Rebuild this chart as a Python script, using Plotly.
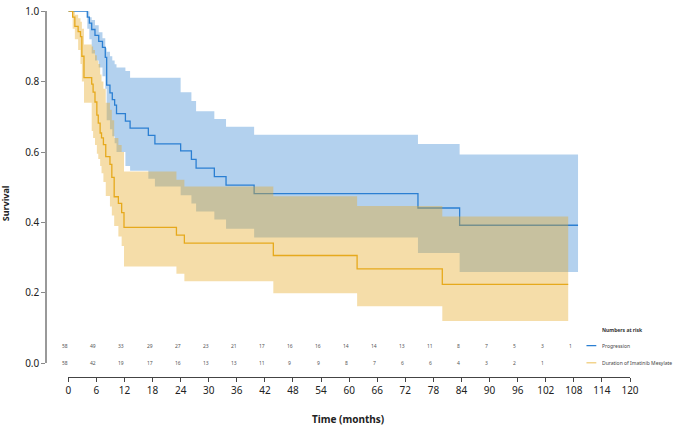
import plotly.graph_objects as go

# ---------------- data ----------------
prog_t = [0, 4.06, 4.5, 5.0, 5.7, 6.5, 7.3, 7.9, 8.2, 8.9, 9.4, 9.9, 10.3, 12.2, 13.2, 17.1, 18.5,
          24.0, 26.3, 27.3, 31.2, 33.7, 39.7, 74.7, 83.6, 108.9]
prog_s = [1.0, 0.983, 0.966, 0.948, 0.931, 0.914, 0.897, 0.869, 0.790, 0.768, 0.749, 0.733, 0.709,
          0.688, 0.668, 0.647, 0.623, 0.603, 0.579, 0.554, 0.530, 0.506, 0.482, 0.441, 0.392, 0.392]
prog_up = [1.0, 1.0, 0.983, 0.975, 0.96, 0.94, 0.923, 0.895, 0.885, 0.872, 0.86, 0.849, 0.84,
           0.83, 0.811, 0.811, 0.811, 0.770, 0.745, 0.716, 0.694, 0.672, 0.649, 0.623, 0.593, 0.593]
prog_lo = [1.0, 0.95, 0.92, 0.88, 0.86, 0.84, 0.815, 0.78, 0.69, 0.665, 0.645, 0.625, 0.60,
           0.56, 0.547, 0.524, 0.502, 0.477, 0.454, 0.431, 0.408, 0.382, 0.357, 0.313, 0.259, 0.259]

dur_t = [0, 0.93, 1.4, 2.1, 2.6, 2.9, 3.35, 5.0, 5.3, 5.7, 6.1, 6.4, 6.8, 7.1, 7.5, 8.0, 8.9, 9.3,
         9.8, 10.7, 11.4, 11.9, 23.1, 24.8, 43.8, 61.7, 79.9, 106.8]
dur_s = [1.0, 0.983, 0.957, 0.942, 0.928, 0.872, 0.811, 0.793, 0.770, 0.742, 0.705, 0.682, 0.654,
         0.640, 0.621, 0.587, 0.565, 0.528, 0.473, 0.454, 0.428, 0.386, 0.364, 0.341, 0.306, 0.268,
         0.224, 0.224]
dur_up = [1.0, 1.0, 0.99, 0.98, 0.97, 0.95, 0.905, 0.9, 0.89, 0.875, 0.86, 0.85, 0.82, 0.80, 0.78,
          0.74, 0.72, 0.69, 0.64, 0.62, 0.60, 0.545, 0.521, 0.502, 0.474, 0.447, 0.417, 0.417]
dur_lo = [1.0, 0.95, 0.92, 0.89, 0.85, 0.80, 0.74, 0.66, 0.64, 0.62, 0.595, 0.58, 0.56, 0.54, 0.515,
          0.475, 0.445, 0.42, 0.39, 0.36, 0.333, 0.275, 0.254, 0.233, 0.199, 0.162, 0.120, 0.120]

risk_times = [0, 6, 12, 18, 24, 30, 36, 42, 48, 54, 60, 66, 72, 78, 84, 90, 96, 102, 108]
prog_risk = [58, 49, 33, 29, 27, 23, 21, 17, 16, 16, 14, 14, 13, 11, 8, 7, 5, 3, 1]
dur_risk = [58, 42, 19, 17, 16, 13, 13, 11, 9, 9, 8, 7, 6, 6, 4, 3, 2, 1, None]

x_ticks = list(range(0, 121, 6))
y_ticks = [0.0, 0.2, 0.4, 0.6, 0.8, 1.0]

series_names = ["Progression", "Duration of Imatinib Mesylate"]

# ---------------- style ----------------
BLUE = "#2b7fd2"
BLUE_BAND = "#b3d1ee"
ORANGE = "#e6a91c"
ORANGE_BAND = "rgba(230,170,40,0.40)"
FONT = "Noto Sans"

fig = go.Figure()

# Progression band + line
fig.add_trace(go.Scatter(x=prog_t, y=prog_lo, mode="lines", line=dict(width=0, shape="hv"),
                         showlegend=False, hoverinfo="skip"))
fig.add_trace(go.Scatter(x=prog_t, y=prog_up, mode="lines", line=dict(width=0, shape="hv"),
                         fill="tonexty", fillcolor=BLUE_BAND, showlegend=False, hoverinfo="skip"))
fig.add_trace(go.Scatter(x=prog_t, y=prog_s, mode="lines", line=dict(color=BLUE, width=1.3, shape="hv"),
                         name=series_names[0], showlegend=False))

# Duration band + line
fig.add_trace(go.Scatter(x=dur_t, y=dur_lo, mode="lines", line=dict(width=0, shape="hv"),
                         showlegend=False, hoverinfo="skip"))
fig.add_trace(go.Scatter(x=dur_t, y=dur_up, mode="lines", line=dict(width=0, shape="hv"),
                         fill="tonexty", fillcolor=ORANGE_BAND, showlegend=False, hoverinfo="skip"))
fig.add_trace(go.Scatter(x=dur_t, y=dur_s, mode="lines", line=dict(color=ORANGE, width=1.3, shape="hv"),
                         name=series_names[1], showlegend=False))

# numbers at risk
ann = []
row_y = [0.05, 0.0]
for t, n in zip(risk_times, prog_risk):
    ann.append(dict(x=t, y=row_y[0], xref="x", yref="y", text=str(n), showarrow=False,
                    xshift=-3, font=dict(size=5, color="#555", family=FONT)))
for t, n in zip(risk_times, dur_risk):
    if n is not None:
        ann.append(dict(x=t, y=row_y[1], xref="x", yref="y", text=str(n), showarrow=False,
                        xshift=-3, font=dict(size=5, color="#555", family=FONT)))

# legend (numbers at risk)
ann.append(dict(x=113.5, y=0.095, xref="x", yref="y", text="<b>Numbers at risk</b>", showarrow=False,
                xanchor="left", align="left", width=60,
                font=dict(size=5, color="#333", family=FONT)))
shapes = []
for name, col, yy in zip(series_names, [BLUE, ORANGE], row_y):
    ann.append(dict(x=113.5, y=yy, xref="x", yref="y", text=name, showarrow=False,
                    xanchor="left", align="left", width=76,
                    font=dict(size=5, color="#444", family=FONT)))
    shapes.append(dict(type="line", xref="x", yref="y", x0=110.7, x1=112.8, y0=yy, y1=yy,
                       line=dict(color=col, width=1.3)))

# axis titles (positions in page pixels, converted below)
ann.append(dict(x=5, y=200, text="<b>Survival</b>", showarrow=False, xanchor="center", yanchor="middle",
                textangle=-90, font=dict(size=9, color="#222", family=FONT)))
ann.append(dict(x=348, y=420, text="<b>Time (months)</b>", showarrow=False, xanchor="center",
                yanchor="middle", font=dict(size=10, color="#222", family=FONT)))

W, H = 673, 425
L, R, T, B = 46, 43, 4, 48
pw = W - L - R
ph = H - T - B
x0_px = 68.3
y0_px = 363

for a in ann:
    if a.get("xref") is None:
        a["xref"] = "paper"
        a["yref"] = "paper"
        a["x"] = (a["x"] - L) / pw
        a["y"] = (H - B - a["y"]) / ph

fig.update_layout(
    width=W, height=H,
    margin=dict(l=L, r=R, t=T, b=B, pad=0),
    paper_bgcolor="white", plot_bgcolor="white",
    font=dict(family=FONT, size=10, color="#222"),
    annotations=ann, shapes=shapes,
    xaxis=dict(domain=[(x0_px - L) / pw, 1], range=[0, 120], anchor="free", position=0,
               tickvals=x_ticks, ticks="outside", ticklen=4, tickcolor="#444", tickwidth=1,
               showline=True, linecolor="#444", linewidth=1, showgrid=False, zeroline=False,
               tickfont=dict(size=10, color="#222")),
    yaxis=dict(domain=[(H - B - y0_px) / ph, 1], range=[0, 1.0005], anchor="free", position=0,
               tickvals=y_ticks, tickformat=".1f", ticks="outside", ticklen=4, tickcolor="#888",
               showline=True, linecolor="#999", linewidth=1.5, showgrid=False, zeroline=False,
               ticklabeloverflow="allow",
               tickfont=dict(size=10, color="#222")),
)

fig.write_html("out.html", config={"displayModeBar": False},
               post_script="document.body.style.margin='0';document.body.style.overflow='hidden';")
